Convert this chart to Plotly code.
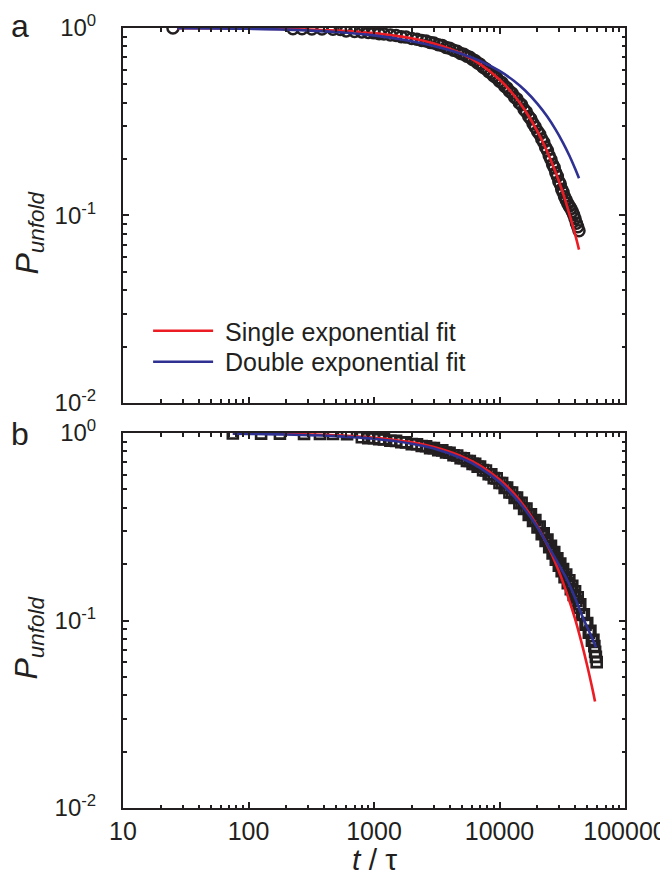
import plotly.graph_objects as go
from plotly.subplots import make_subplots

# ---------------- Panel a data (circles) ----------------
t_a = [25, 226, 267, 320, 385, 471, 540,
       600, 700, 800, 900, 1000, 1100, 1200, 1350, 1500, 1650, 1800, 2000, 2200, 2400,
       2600, 2800, 3000, 3250, 3500, 3750, 4000, 4300, 4600, 4900, 5200, 5500, 5800,
       6100, 6400, 6700, 7000, 7400, 7800, 8200, 8600, 9000, 9500, 10000, 10500, 11000,
       11500, 12000, 12600, 13200, 13800, 14400, 15000, 15700, 16400, 17100, 17800,
       18500, 19300, 20100, 20900, 21700, 22500, 23300, 24100, 24900, 25700, 26500,
       27300, 28100, 28900, 29700, 30500, 31300, 32100, 33000, 34000, 35000, 36000,
       37000, 38000, 39000, 40000, 41000, 42000, 43000]
p_a = [1.0, 0.99, 0.99, 0.988, 0.987, 0.985, 0.982,
       0.965, 0.958, 0.953, 0.946, 0.942, 0.933, 0.929, 0.918, 0.912, 0.899, 0.894, 0.880, 0.872, 0.857,
       0.852, 0.838, 0.832, 0.814, 0.806, 0.788, 0.781, 0.761, 0.752, 0.731, 0.724, 0.706, 0.699,
       0.680, 0.669, 0.651, 0.640, 0.617, 0.605, 0.585, 0.574, 0.554, 0.542, 0.520, 0.510, 0.489,
       0.478, 0.460, 0.449, 0.427, 0.418, 0.398, 0.390, 0.368, 0.356, 0.337, 0.327,
       0.309, 0.296, 0.281, 0.271, 0.256, 0.246, 0.231, 0.222, 0.208, 0.199, 0.187,
       0.180, 0.169, 0.162, 0.152, 0.147, 0.138, 0.133, 0.126, 0.121, 0.116, 0.112,
       0.109, 0.105, 0.101, 0.096, 0.091, 0.087, 0.083]

# fits, panel a
t_fit_a = [27, 50, 100, 200, 500, 1000, 2000, 3000, 5000, 7000, 10000, 13000, 16000,
           20000, 24000, 28000, 32000, 36000, 40000, 43000]
single_a = [0.998, 0.997, 0.994, 0.987, 0.969, 0.939, 0.881, 0.827, 0.729, 0.642, 0.531,
            0.439, 0.363, 0.282, 0.219, 0.170, 0.132, 0.102, 0.0795, 0.0658]
double_a = [0.997, 0.995, 0.990, 0.980, 0.952, 0.913, 0.849, 0.801, 0.727, 0.667, 0.590,
            0.523, 0.464, 0.395, 0.337, 0.287, 0.245, 0.209, 0.178, 0.158]

# ---------------- Panel b data (squares) ----------------
t_b = [75, 126, 178, 277, 371, 471, 610,
       800, 900, 1000, 1100, 1200, 1350, 1500, 1650, 1800, 2000, 2200, 2400, 2600, 2800,
       3000, 3250, 3500, 3750, 4000, 4300, 4600, 4900, 5200, 5500, 5800, 6100, 6400,
       6700, 7000, 7400, 7800, 8200, 8600, 9000, 9500, 10000, 10500, 11000, 11500,
       12000, 12600, 13200, 13800, 14400, 15000, 15700, 16400, 17100, 17800, 18500,
       19300, 20100, 20900, 21700, 22500, 23300, 24100, 24900, 25700, 26500, 27300,
       28100, 28900, 29700, 30500, 31300, 32100, 33000, 34000, 35000, 36000, 37000,
       38000, 39000, 40000, 41000, 42000, 43000, 44000, 45500, 47000, 48500, 50000,
       51500, 53000, 54500, 56000, 57000, 57800, 58600, 59500]
p_b = [0.995, 0.993, 0.992, 0.99, 0.99, 0.988, 0.985,
       0.950, 0.939, 0.938, 0.926, 0.925, 0.910, 0.908, 0.893, 0.891, 0.873, 0.871, 0.852, 0.850, 0.831,
       0.831, 0.810, 0.808, 0.787, 0.785, 0.761, 0.759, 0.735, 0.734, 0.709, 0.709, 0.685, 0.685,
       0.661, 0.662, 0.634, 0.631, 0.603, 0.603, 0.575, 0.573, 0.541, 0.541, 0.510, 0.512,
       0.482, 0.482, 0.451, 0.453, 0.423, 0.425, 0.394, 0.396, 0.366, 0.369, 0.340,
       0.343, 0.314, 0.317, 0.289, 0.292, 0.266, 0.270, 0.246, 0.250, 0.228, 0.232,
       0.211, 0.215, 0.196, 0.201, 0.183, 0.188, 0.170, 0.176, 0.158, 0.164, 0.147,
       0.153, 0.137, 0.143, 0.127, 0.133, 0.117, 0.122, 0.107, 0.108, 0.095, 0.097,
       0.086, 0.088, 0.078, 0.079, 0.073, 0.068, 0.064, 0.060]

# fits, panel b
t_fit_b = [75, 100, 200, 500, 1000, 2000, 3000, 5000, 7000, 10000, 13000, 16000, 20000,
           25000, 30000, 35000, 40000, 45000, 50000, 55000, 57700]
single_b = [0.996, 0.994, 0.989, 0.972, 0.944, 0.892, 0.842, 0.751, 0.670, 0.565, 0.476,
            0.401, 0.319, 0.240, 0.180, 0.135, 0.102, 0.0764, 0.0574, 0.0432, 0.037]
t_fit_b2 = [75, 100, 200, 500, 1000, 2000, 3000, 5000, 7000, 10000, 13000, 16000, 20000,
            25000, 30000, 35000, 40000, 45000, 50000, 55000, 58700]
double_b = [0.993, 0.99, 0.982, 0.962, 0.932, 0.877, 0.826, 0.733, 0.652, 0.548, 0.46,
            0.39, 0.315, 0.243, 0.196, 0.162, 0.132, 0.108, 0.092, 0.08, 0.072]

x_tickvals = [10, 100, 1000, 10000, 100000]
x_ticktext = ["10", "100", "1000", "10000", "100000"]
y_tickvals = [0.01, 0.1, 1]
y_ticktext = ["10<sup>-2</sup>", "10<sup>-1</sup>", "10<sup>0</sup>"]

RED = "#ec1c24"
BLUE = "#2e3192"
INK = "#231f20"
FONT = "Liberation Sans, Arial, sans-serif"

x_minor = [v * m for v in [10, 100, 1000, 10000] for m in range(2, 10)]
y_minor = [v * m for v in [0.01, 0.1] for m in range(2, 10)]

fig = make_subplots(rows=2, cols=1, vertical_spacing=0.0385)

fig.add_trace(go.Scatter(x=t_a, y=p_a, mode="markers", showlegend=False,
                         marker=dict(symbol="circle-open", size=11, color=INK,
                                     line=dict(width=2.5))), row=1, col=1)
fig.add_trace(go.Scatter(x=t_fit_a, y=single_a, mode="lines",
                         name="&nbsp;Single exponential fit", legend="legend",
                         line=dict(color=RED, width=2.6, shape="spline")), row=1, col=1)
fig.add_trace(go.Scatter(x=t_fit_a, y=double_a, mode="lines",
                         name="&nbsp;Double exponential fit", legend="legend2",
                         line=dict(color=BLUE, width=2.6, shape="spline")), row=1, col=1)

fig.add_trace(go.Scatter(x=t_b, y=p_b, mode="markers", showlegend=False,
                         marker=dict(symbol="square-open", size=10, color=INK,
                                     line=dict(width=2.6))), row=2, col=1)
fig.add_trace(go.Scatter(x=t_fit_b, y=single_b, mode="lines", showlegend=False,
                         line=dict(color=RED, width=2.6, shape="spline")), row=2, col=1)
fig.add_trace(go.Scatter(x=t_fit_b2, y=double_b, mode="lines", showlegend=False,
                         line=dict(color=BLUE, width=2.6, shape="spline")), row=2, col=1)

axis_common = dict(showline=True, linecolor=INK, linewidth=2, mirror="ticks",
                   ticks="inside", tickcolor=INK, tickwidth=1.5, ticklen=6,
                   showgrid=False, zeroline=False, automargin=False)

for r in (1, 2):
    fig.update_xaxes(type="log", range=[1, 5], tickvals=x_tickvals, ticktext=x_ticktext,
                     showticklabels=(r == 2),
                     minor=dict(tickvals=x_minor, ticks="inside", ticklen=3.5,
                                tickcolor=INK, tickwidth=1.5, showgrid=False),
                     tickfont=dict(family=FONT, size=25, color=INK),
                     row=r, col=1, **axis_common)
    fig.update_yaxes(type="log", range=[-2, 0], tickvals=y_tickvals, ticktext=y_ticktext,
                     minor=dict(tickvals=y_minor, ticks="inside", ticklen=3.5,
                                tickcolor=INK, tickwidth=1.5, showgrid=False),
                     tickfont=dict(family=FONT, size=24, color=INK),
                     ticklabelstandoff=20,
                     row=r, col=1, **axis_common)

ylab = "<i>P</i><sub><i>unfold</i></sub>"
annotations = [
    dict(text=ylab, xref="paper", yref="y domain", x=0, y=0.5, xshift=-94, yshift=-17,
         xanchor="center", yanchor="middle", textangle=-90,
         showarrow=False, font=dict(family=FONT, size=32, color=INK)),
    dict(text=ylab, xref="paper", yref="y2 domain", x=0, y=0.5, xshift=-94, yshift=-17,
         xanchor="center", yanchor="middle", textangle=-90,
         showarrow=False, font=dict(family=FONT, size=32, color=INK)),
    dict(text="a", xref="paper", yref="y domain", x=0, y=1, xshift=-103, yshift=2,
         xanchor="center", yanchor="middle",
         showarrow=False, font=dict(family=FONT, size=32, color=INK)),
    dict(text="b", xref="paper", yref="y2 domain", x=0, y=1, xshift=-103, yshift=-1,
         xanchor="center", yanchor="middle",
         showarrow=False, font=dict(family=FONT, size=32, color=INK)),
    # x-axis title
    dict(text="<i>t</i> / τ", xref="x2 domain", yref="paper", x=0.5, y=0, yshift=-51,
         xanchor="center", yanchor="middle",
         showarrow=False, font=dict(family=FONT, size=30, color=INK)),
]

leg_common = dict(xanchor="left", yanchor="middle", xref="paper", yref="paper",
                  bgcolor="rgba(0,0,0,0)", font=dict(family=FONT, size=25, color=INK),
                  itemwidth=60)

# The page body has an 8 px margin, so the figure is drawn 8 px smaller
fig.update_layout(
    width=660, height=865,
    margin=dict(l=115, r=43, t=20, b=65),
    paper_bgcolor="white", plot_bgcolor="white",
    font=dict(family=FONT, color=INK),
    annotations=annotations,
    legend=dict(x=0.05, y=0.6115, **leg_common),
    legend2=dict(x=0.05, y=0.5718, **leg_common),
)

fig.write_html("out.html")
